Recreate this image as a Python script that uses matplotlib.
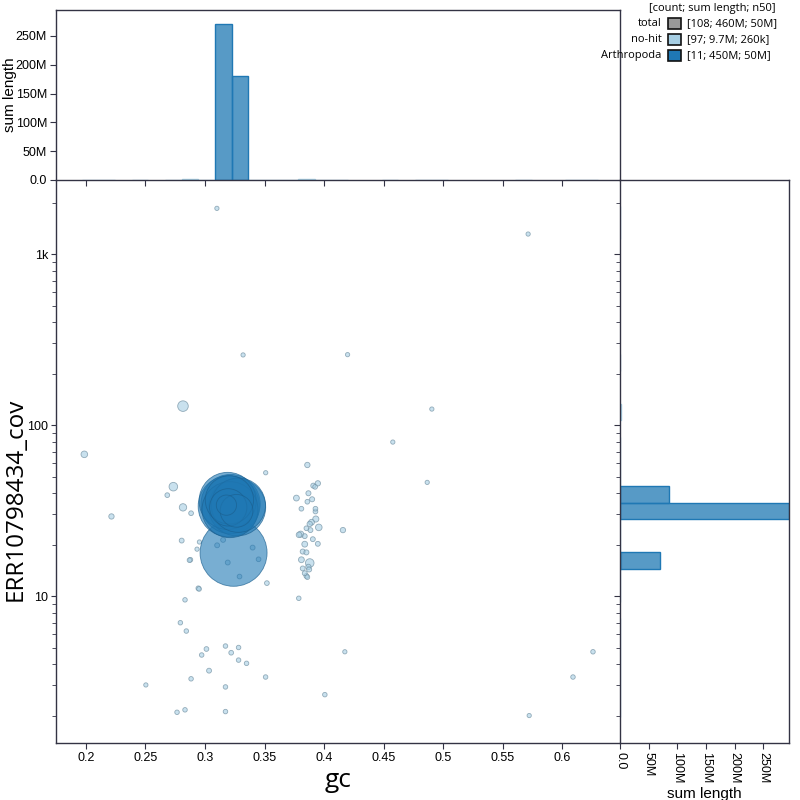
import numpy as np
import matplotlib
matplotlib.use("Agg")
import matplotlib.pyplot as plt
from matplotlib.patches import Rectangle
from matplotlib.colors import to_rgba
from matplotlib.ticker import FuncFormatter, LogLocator, MultipleLocator, NullFormatter

plt.rcParams["font.family"] = ["Liberation Sans", "DejaVu Sans"]

# no-hit contigs (gc, coverage, length in kb)
nohit_gc = [0.310, 0.332, 0.2815, 0.1986, 0.351, 0.386, 0.5715, 0.4198, 0.4906, 0.4578,
            0.4867, 0.4159, 0.2734, 0.2683, 0.2815, 0.2883, 0.2214, 0.2804, 0.2953, 0.2933,
            0.3102, 0.3152, 0.340, 0.2877, 0.2870, 0.3191, 0.345, 0.329, 0.2944, 0.2950,
            0.352, 0.2832, 0.3788, 0.2793, 0.2843, 0.3172, 0.3012, 0.3282, 0.322, 0.2972,
            0.3282, 0.3349, 0.3034, 0.2883, 0.3509, 0.2503, 0.3172, 0.4007, 0.2765, 0.2832,
            0.3172, 0.4175, 0.626, 0.6092, 0.5724,
            0.391, 0.3925, 0.3948, 0.3869, 0.3768, 0.390, 0.386, 0.381, 0.3928, 0.3928,
            0.3931, 0.3895, 0.388, 0.3956, 0.3852, 0.3886, 0.3804, 0.3790, 0.3838, 0.3906,
            0.3948, 0.3838, 0.3821, 0.3852, 0.381, 0.388, 0.3869, 0.3875, 0.3821, 0.3838,
            0.3852, 0.3860]
nohit_cov = [1850, 257, 129, 67.4, 52.6, 58.4, 1309, 258, 124, 79.5,
             46.2, 24.3, 43.6, 38.9, 33.0, 30.5, 29.2, 21.1, 20.7, 18.8,
             19.8, 21.3, 19.2, 16.3, 16.2, 15.7, 16.4, 13.0, 11.1, 11.0,
             11.9, 9.5, 9.7, 6.98, 6.24, 5.10, 4.9, 5.0, 4.66, 4.52,
             4.22, 4.04, 3.66, 3.28, 3.36, 3.02, 2.94, 2.65, 2.09, 2.16,
             2.11, 4.72, 4.72, 3.36, 2.0,
             44.2, 43.5, 45.6, 39.9, 37.4, 36.8, 35.6, 32.4, 32.4, 31.2,
             28.2, 27.0, 26.4, 25.2, 24.9, 24.3, 23.0, 22.8, 22.4, 21.5,
             20.2, 20.1, 18.2, 18.0, 16.3, 15.6, 14.8, 14.3, 14.5, 13.6,
             13.1, 12.9]
nohit_len = [20, 20, 940, 200, 20, 80, 20, 20, 20, 20,
             20, 80, 500, 40, 300, 40, 80, 50, 20, 20,
             50, 50, 50, 40, 40, 50, 40, 40, 40, 40,
             40, 30, 30, 30, 30, 30, 40, 30, 40, 30,
             30, 30, 50, 30, 30, 20, 30, 30, 30, 30,
             30, 20, 30, 30, 20,
             60, 40, 80, 60, 120, 60, 40, 40, 40, 40,
             150, 120, 80, 200, 40, 50, 150, 100, 50, 50,
             50, 120, 60, 60, 120, 500, 80, 60, 50, 50,
             50, 40]

# Arthropoda contigs (gc, coverage, length in Mb)
arth_gc = [0.3240, 0.3200, 0.3215, 0.3270, 0.3190, 0.3210, 0.3280, 0.3205, 0.3195, 0.3265, 0.3180]
arth_cov = [17.9, 33.5, 34.5, 33.0, 36.0, 32.0, 34.0, 36.5, 33.0, 31.5, 34.0]
arth_len = [70, 58, 54, 50, 50, 48, 45, 35, 20, 15, 5]

legend_names = ["total", "no-hit", "Arthropoda"]
legend_stats = ["[108; 460M; 50M]", "[97; 9.7M; 260k]", "[11; 450M; 50M]"]
legend_colors = ["#999999", "#a6cee3", "#1f78b4"]

GC_LIM = (0.1748, 0.6487)
COV_LIM = (1.382, 2710)
gc_bins = np.arange(0.1684, 0.67, 0.014)
cov_bins = 10 ** np.arange(0.0985, 3.5, 0.0965)


def radius_px(length_bp, max_len):
    return 1.6 + 31.9 * np.sqrt(np.asarray(length_bp) / max_len)


def marker_size(r_px):
    return (2 * r_px * 0.72) ** 2


def mega(v, pos):
    return "0.0" if v == 0 else f"{v / 1e6:.0f}M"


fig = plt.figure(figsize=(8, 8), dpi=100)
ax = fig.add_axes([0.07, 0.07125, 0.705, 0.70375])
ax_top = fig.add_axes([0.07, 0.775, 0.705, 0.2125])
ax_right = fig.add_axes([0.775, 0.07125, 0.21125, 0.70375])

groups = [
    ("no-hit", np.array(nohit_gc), np.array(nohit_cov), np.array(nohit_len) * 1e3, "#a6cee3", "#6f8ea0"),
    ("Arthropoda", np.array(arth_gc), np.array(arth_cov), np.array(arth_len) * 1e6, "#1f78b4", "#1a5f8f"),
]
max_len = max(g[3].max() for g in groups)

# scatter
for name, gc, cov, ln, col, edge in groups:
    order = np.argsort(-ln)
    ax.scatter(gc[order], cov[order], s=marker_size(radius_px(ln[order], max_len)),
               facecolor=to_rgba(col, 0.6), edgecolor=to_rgba(edge, 0.7), linewidth=0.6, zorder=3)

ax.set_yscale("log")
ax.set_xlim(*GC_LIM)
ax.set_ylim(*COV_LIM)
ax.xaxis.set_major_locator(MultipleLocator(0.05))
ax.xaxis.set_major_formatter(FuncFormatter(lambda v, p: f"{v:g}"))
ax.yaxis.set_major_locator(LogLocator(base=10))
ax.yaxis.set_minor_locator(LogLocator(base=10, subs=np.arange(2, 10)))
ax.yaxis.set_minor_formatter(NullFormatter())
ax.yaxis.set_major_formatter(FuncFormatter(lambda v, p: "1k" if v >= 1000 else f"{v:g}"))
ax.spines["top"].set_visible(False)
ax.spines["right"].set_visible(False)
ax.set_xlabel("gc", fontsize=19, fontfamily="Open Sans")
ax.set_ylabel("ERR10798434_cov", fontsize=17.5, fontfamily="Open Sans")
ax.xaxis.set_label_coords(0.5, -0.045)
ax.yaxis.set_label_coords(-0.0505, 0.432)

# histograms
hist_tops = []
hist_rights = []
for name, gc, cov, ln, col, edge in groups:
    h1, _ = np.histogram(gc, bins=gc_bins, weights=ln)
    h2, _ = np.histogram(cov, bins=cov_bins, weights=ln)
    hist_tops.append((h1, col))
    hist_rights.append((h2, col))
hmax = max(max(h.max() for h, _ in hist_tops), max(h.max() for h, _ in hist_rights))

for h, col in hist_tops:
    m = h > 0
    ax_top.bar(gc_bins[:-1][m], h[m], width=np.diff(gc_bins)[m], align="edge",
               facecolor=to_rgba(col, 0.75), edgecolor=col, linewidth=1)
for h, col in hist_rights:
    m = h > 0
    ax_right.barh(cov_bins[:-1][m], h[m], height=np.diff(cov_bins)[m], align="edge",
                  facecolor=to_rgba(col, 0.75), edgecolor=col, linewidth=1)

ax_top.set_xlim(*GC_LIM)
ax_top.set_ylim(0, hmax)
ax_top.xaxis.set_major_locator(MultipleLocator(0.05))
ax_top.xaxis.set_major_formatter(NullFormatter())
ax_top.yaxis.set_major_locator(MultipleLocator(50e6))
ax_top.yaxis.set_major_formatter(FuncFormatter(mega))
ax_top.set_ylabel("sum length", fontsize=11)
ax_top.yaxis.set_label_coords(-0.069, 0.5)

ax_right.set_yscale("log")
ax_right.set_ylim(*COV_LIM)
ax_right.set_xlim(0, hmax)
ax_right.yaxis.set_major_locator(LogLocator(base=10))
ax_right.yaxis.set_minor_locator(LogLocator(base=10, subs=np.arange(2, 10)))
ax_right.yaxis.set_major_formatter(NullFormatter())
ax_right.yaxis.set_minor_formatter(NullFormatter())
ax_right.xaxis.set_major_locator(MultipleLocator(50e6))
ax_right.xaxis.set_major_formatter(FuncFormatter(mega))
ax_right.tick_params(axis="x", labelrotation=270)
ax_right.set_xlabel("sum length", fontsize=11)
ax_right.xaxis.set_label_coords(0.497, -0.078)

for a in (ax, ax_top, ax_right):
    a.tick_params(which="major", direction="out", length=4, width=0.8, labelsize=9,
                  pad=2.5, color="#333344")
    a.tick_params(which="minor", direction="out", length=3, width=0.6, color="#333344")
    for sp in a.spines.values():
        sp.set_color("#333344")
        sp.set_linewidth(1)
ax.tick_params(axis="y", which="major", length=3.5, pad=2)

# legend
fig.text(0.89, 0.9895, "[count; sum length; n50]", ha="center", va="center", fontsize=8, fontfamily="Open Sans")
row_y = [0.9705, 0.951, 0.931]
for name, stat, col, y in zip(legend_names, legend_stats, legend_colors, row_y):
    fig.text(0.827, y, name, ha="right", va="center", fontsize=8, fontfamily="Open Sans")
    fig.patches.append(Rectangle((0.8345, y - 0.007), 0.0165, 0.014, transform=fig.transFigure,
                                 facecolor=col, edgecolor="#111111", linewidth=1.2, figure=fig))
    fig.text(0.859, y, stat, ha="left", va="center", fontsize=8, fontfamily="Open Sans")

fig.savefig("out.png", dpi=100)
